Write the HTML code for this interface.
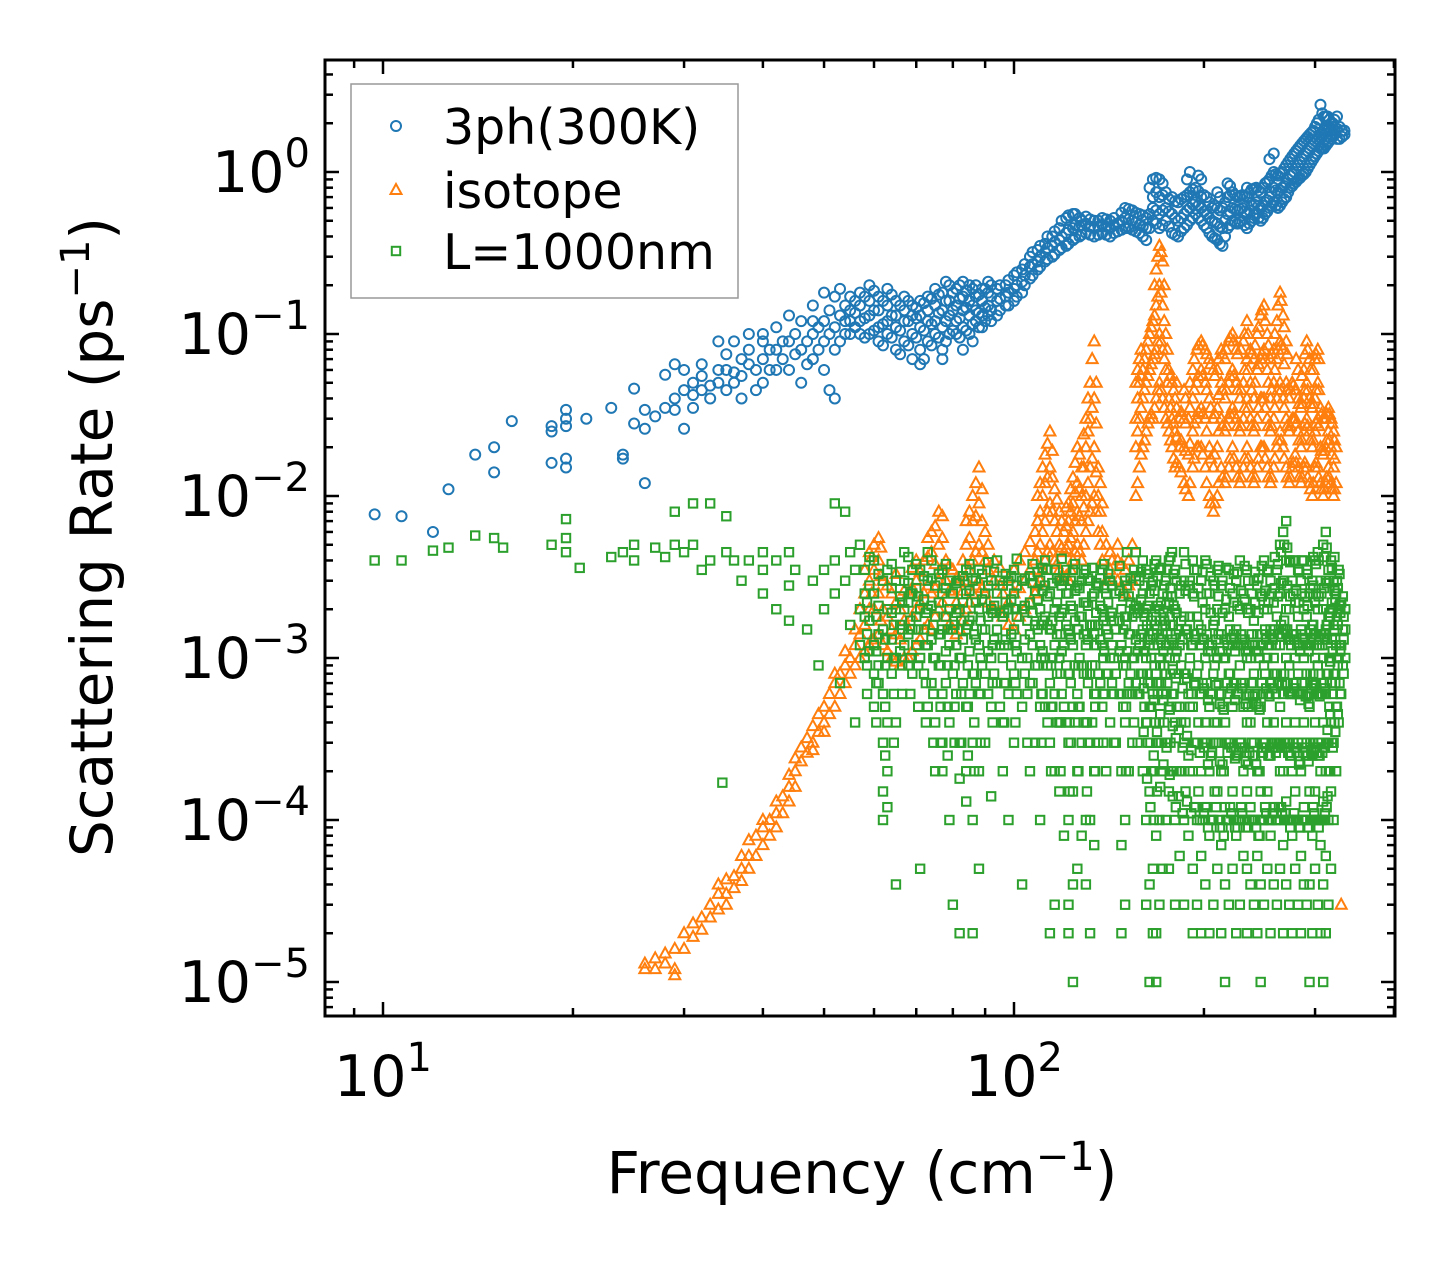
<!DOCTYPE html>
<html><head><meta charset="utf-8"><style>
html,body{margin:0;padding:0;background:#fff;}
svg{display:block;font-family:"DejaVu Sans","Liberation Sans",sans-serif;}
</style></head><body>
<svg id="chart" width="1455" height="1265" viewBox="0 0 1455 1265" xmlns="http://www.w3.org/2000/svg">
<rect width="1455" height="1265" fill="#fff"/>
<g id="marks"></g>
<g id="axes"></g>
</svg>
<script>
const threephRows = [[9.7,.0077],[10.7,.0075],[12,.006],[12.7,.011],[14,.018],[15,.014,.02],[16,.029],[18.5,.016,.025,.027],[19.5,.027,.03,.017,.015,.034],[21,.03],[23,.035],[24,.017,.018],[25,.028,.046],[26,.012,.034,.026],[27,.031],[28,.035,.056],[29,.034,.065,.04],[30,.045,.026,.06],[31,.05,.042,.035],[32,.055,.065,.045],[33,.048,.04],[34,.05,.09,.06],[35,.06,.045,.075],[36,.058,.09,.05],[37,.07,.04,.055],[38,.1,.065,.08],[39,.06,.045],[40,.09,.05,.07,.1],[41,.08,.06],[42,.11,.06,.08],[43,.09,.07],[44,.13,.09,.06],[45,.1,.075],[46,.12,.08,.05],[47,.09,.065],[48,.15,.1,.07,.12],[49,.11,.08],[50,.18,.12,.06,.09],[51,.14,.1,.045],[52,.17,.11,.04,.08],[53,.19,.13,.09],[54,.15,.1,.12],[55,.17,.12,.1,.14],[57,.1,.12,.15,.18],[59,.1,.13,.16,.2],[61,.09,.11,.14,.17],[63,.1,.12,.15,.19],[65,.08,.11,.13,.16],[67,.09,.12,.14,.17],[69,.07,.1,.13,.15],[71,.065,.08,.11,.13,.16],[73,.09,.12,.14,.17],[75,.1,.12,.15,.19],[77,.07,.08,.11,.14,.18],[79,.1,.13,.16,.2],[81,.1,.12,.15,.19],[83,.08,.11,.14,.17,.21],[85,.1,.13,.16,.2],[87,.12,.14,.17,.2],[89,.11,.13,.16,.19],[91,.13,.15,.18,.21],[94,.13,.16,.19],[97,.15,.17,.2],[100,.16,.19,.23],[103,.18,.21,.25],[106,.22,.26,.3],[109,.25,.28,.33],[112,.28,.32,.36],[115,.3,.35,.4],[118,.33,.38,.45],[121,.35,.42,.52],[124,.38,.45,.55],[127,.4,.46,.52],[130,.42,.48,.53],[134,.4,.45,.5],[138,.42,.47,.52],[142,.4,.45,.5],[146,.43,.48],[150,.45,.52,.6],[154,.44,.5,.58],[158,.42,.47,.55],[162,.38,.45,.52],[166,.5,.6,.7,.9],[170,.45,.55,.7,.9],[174,.5,.6,.75],[178,.42,.55,.7],[182,.4,.5,.65],[186,.45,.55,.7],[190,.5,.6,.75,1.0],[194,.55,.65,.8],[198,.5,.6,.7,.9],[202,.45,.55,.7],[206,.4,.5,.6],[210,.38,.48,.6,.75],[214,.35,.45,.6],[218,.45,.55,.7,.85],[222,.5,.6,.75],[226,.48,.58,.7],[230,.5,.6,.72],[234,.45,.55,.7,.8],[238,.5,.62,.78],[242,.55,.65,.8],[246,.5,.6,.75],[250,.55,.65,.85],[254,.6,.7,.9,1.2],[258,.65,.8,1.0,1.3],[262,.6,.75,.95],[266,.65,.8,1.0],[270,.7,.85,1.1],[274,.8,.95,1.2],[278,.85,1.0,1.3],[282,.9,1.1,1.4],[286,.95,1.2,1.5],[290,1.0,1.3,1.6],[294,1.1,1.4,1.7],[298,1.2,1.5,1.8],[302,1.3,1.6,2.0],[306,1.4,1.7,2.6],[310,1.4,1.8,2.2],[314,1.5,1.9,2.2],[318,1.6,1.8,2.0],[322,1.7,1.8,2.1],[328,1.6,1.9],[334,1.7,1.8]];

const threephRowsExtra = [[56,.11,.135,.16],[58,.095,.125,.17],[60,.105,.14,.185],[62,.085,.115,.16],[64,.095,.13,.175],[66,.075,.105,.15],[68,.085,.12,.16],[70,.095,.125,.145],[72,.07,.105,.155],[74,.085,.115,.165],[76,.095,.135,.175],[78,.09,.12,.16,.21],[80,.105,.14,.18],[82,.095,.125,.165,.2],[84,.105,.145,.185],[86,.09,.115,.15,.19],[88,.11,.135,.175],[90,.12,.145,.19],[92,.12,.14,.17,.2],[95,.14,.165,.2],[98,.15,.18,.215],[101,.17,.2,.24],[104,.2,.23,.27],[107,.23,.27,.32],[110,.26,.3,.35],[113,.29,.34,.4],[116,.31,.37,.43],[119,.34,.4,.5],[122,.36,.44,.54],[125,.39,.47,.55],[128,.41,.47,.5],[132,.41,.46,.51],[136,.41,.46,.5],[140,.41,.46,.51],[144,.42,.47,.52],[148,.44,.5,.56],[152,.45,.51,.59],[156,.43,.49,.56],[160,.4,.46,.54],[164,.45,.55,.8],[168,.48,.58,.75,.92],[172,.47,.58,.72,.85],[176,.46,.57,.68],[180,.41,.52,.66],[184,.43,.52,.68],[188,.47,.58,.72,.9],[192,.52,.63,.78],[196,.52,.62,.76,.95],[200,.47,.57,.72],[204,.42,.52,.65],[208,.39,.49,.62],[212,.36,.46,.58,.7],[216,.4,.5,.65],[220,.47,.57,.72,.82],[224,.49,.59,.72],[228,.49,.59,.71],[232,.47,.57,.71],[236,.48,.58,.74],[240,.52,.63,.79],[244,.52,.62,.77],[248,.52,.62,.8],[252,.57,.67,.87],[256,.62,.75,.95],[260,.62,.77,.97],[264,.62,.77,.98],[268,.68,.82,1.05],[272,.75,.9,1.15],[276,.82,.97,1.25],[280,.87,1.05,1.35],[284,.92,1.15,1.45],[288,.97,1.25,1.55],[292,1.05,1.35,1.65],[296,1.15,1.45,1.75],[300,1.25,1.55,1.9],[304,1.35,1.65,2.1],[308,1.4,1.75,2.3],[312,1.45,1.85,2.2],[316,1.55,1.85,2.1],[320,1.65,1.9,2.0],[325,1.6,1.85,2.2],[331,1.65,1.8]];

const isotopeRows = [[26,1.2e-5,1.3e-5],[27,1.4e-5,1.2e-5],[28,1.5e-5,1.3e-5],[29,1.6e-5,1.2e-5,1.1e-5],[30,2e-5,1.6e-5],[31,2.3e-5,1.9e-5],[32,2.5e-5,2.1e-5],[33,3e-5,2.5e-5],[34,3.5e-5,2.8e-5,4e-5],[35,4.3e-5,3.5e-5,3e-5],[36,4.5e-5,3.8e-5],[37,5e-5,4.2e-5,6e-5],[38,6e-5,5e-5,7.5e-5],[39,8e-5,6e-5],[40,9e-5,7e-5,1e-4],[41,1e-4,8e-5],[42,1.1e-4,9e-5,1.3e-4],[43,1.4e-4,1.1e-4],[44,1.6e-4,1.3e-4,1.9e-4],[45,2e-4,1.6e-4,2.4e-4],[46,2.3e-4,2.8e-4],[47,2.6e-4,3.2e-4],[48,3e-4,3.8e-4,2.7e-4],[49,3.5e-4,4.5e-4],[50,4e-4,5e-4,3.5e-4],[51,4.5e-4,6e-4],[52,5e-4,7e-4,8e-4],[53,6e-4,8e-4],[54,7e-4,9e-4,1.1e-3],[55,8e-4,1e-3],[56,9e-4,1.2e-3,1.5e-3],[57,1e-3,1.4e-3,2e-3],[58,1.1e-3,1.6e-3,2.5e-3,3.5e-3],[59,1.2e-3,2e-3,3e-3,4.5e-3],[60,1.3e-3,2e-3,3.5e-3,5e-3],[61,1.4e-3,2.5e-3,4e-3,5.5e-3],[62,1.2e-3,2e-3,3e-3],[64,1e-3,1.5e-3,2.5e-3],[66,.9e-3,1.3e-3,2e-3],[68,1e-3,1.5e-3,2.5e-3],[70,1.2e-3,2e-3,3e-3,4e-3],[72,1.5e-3,2.5e-3,4e-3],[74,1.5e-3,2.5e-3,4.5e-3,6e-3],[76,2e-3,3e-3,5e-3,8e-3],[78,1.8e-3,3e-3,4e-3],[80,1.5e-3,2.5e-3,3.5e-3],[82,1.5e-3,2e-3,3e-3],[84,2e-3,3e-3,5e-3,7e-3],[86,2.5e-3,4e-3,7e-3,1e-2],[88,3e-3,5e-3,9e-3,1.5e-2],[90,2.5e-3,4e-3,6e-3],[93,2e-3,3e-3,4e-3],[96,1.8e-3,2.5e-3],[100,1.5e-3,2.5e-3,3.5e-3],[104,2e-3,3e-3,4.5e-3],[108,2.5e-3,4e-3,6e-3],[110,3e-3,5e-3,8e-3,1.2e-2],[112,4e-3,7e-3,1.2e-2,1.8e-2],[114,5e-3,9e-3,1.5e-2,2.5e-2],[116,4e-3,7e-3,1.1e-2],[118,3.5e-3,5e-3,8e-3],[120,3e-3,4.5e-3,6e-3],[122,3e-3,5e-3,7e-3,9e-3],[124,4e-3,6e-3,9e-3,1.3e-2],[126,5e-3,8e-3,1.2e-2,2e-2],[128,4e-3,7e-3,1e-2,1.5e-2],[130,6e-3,1e-2,2e-2,3e-2],[132,8e-3,1.5e-2,3e-2,5e-2],[134,1e-2,2e-2,4e-2,9e-2],[136,6e-3,1e-2,1.5e-2],[138,4e-3,6e-3,9e-3],[140,3e-3,5e-3],[143,3e-3,4e-3],[146,3e-3,4e-3,5e-3],[150,2.5e-3,3.5e-3],[154,3e-3,5e-3],[156,1e-2,2e-2,3e-2,5e-2],[158,1.5e-2,3e-2,5e-2,7e-2],[160,2e-2,4e-2,6e-2],[162,2.5e-2,5e-2,8e-2],[164,3e-2,6e-2,1e-1],[166,3e-2,7e-2,1.2e-1],[168,4e-2,8e-2,1.5e-1,2.5e-1],[170,5e-2,1e-1,2e-1,3.5e-1],[172,4e-2,8e-2,1.5e-1,2.8e-1],[174,3e-2,6e-2,1e-1],[176,2.5e-2,4e-2,6e-2],[178,2e-2,3e-2,5e-2],[180,1.5e-2,2.5e-2,4e-2],[183,1.5e-2,2e-2,3e-2],[186,1.2e-2,2e-2,3e-2,4.5e-2],[189,1e-2,1.8e-2,3e-2],[192,1.5e-2,2.5e-2,4e-2,6e-2],[195,2e-2,3e-2,5e-2,8e-2],[198,2e-2,3.5e-2,6e-2,9e-2],[201,1.5e-2,3e-2,5e-2,8e-2],[204,1e-2,2e-2,4e-2,7e-2],[207,8e-3,1.5e-2,3e-2,6e-2],[210,1e-2,2e-2,3.5e-2,6e-2],[213,1.5e-2,3e-2,5e-2,8e-2],[216,1.2e-2,2.5e-2,4e-2,7e-2],[219,1.5e-2,3e-2,5e-2,9e-2],[222,2e-2,3.5e-2,6e-2,1e-1],[225,1.5e-2,3e-2,5e-2,8e-2],[228,1.2e-2,2.5e-2,4e-2],[231,1.5e-2,3e-2,5e-2,9e-2],[234,2e-2,4e-2,7e-2,1.2e-1],[237,1.5e-2,3e-2,5e-2,8e-2],[240,1.2e-2,2.5e-2,4e-2,7e-2],[243,1.5e-2,3e-2,6e-2,1e-1],[246,2e-2,4e-2,7e-2,1.3e-1],[249,2e-2,4e-2,8e-2,1.5e-1],[252,1.5e-2,3e-2,6e-2,1e-1],[255,1.2e-2,2.5e-2,4e-2,7e-2],[258,1.5e-2,3e-2,5e-2,8e-2],[261,2e-2,4e-2,7e-2,1.2e-1],[264,2.5e-2,5e-2,9e-2,1.8e-1],[267,2e-2,4e-2,8e-2,1.3e-1],[270,1.5e-2,3e-2,5e-2,9e-2],[273,1.2e-2,2.5e-2,4e-2],[276,1.5e-2,3e-2,5e-2],[279,1.8e-2,3e-2,4.5e-2],[282,1.5e-2,2.5e-2,4e-2,6e-2],[285,1.2e-2,2e-2,3.5e-2],[288,1.5e-2,2.5e-2,4e-2,6e-2],[291,1.5e-2,3e-2,5e-2,9e-2],[294,1.2e-2,2.5e-2,4e-2,7e-2],[297,1e-2,2e-2,3.5e-2],[300,1.5e-2,2.5e-2,4e-2,7e-2],[303,1.5e-2,3e-2,5e-2,8e-2],[306,1.2e-2,2e-2,3.5e-2],[309,1e-2,1.8e-2,3e-2],[312,1.2e-2,2e-2,3e-2],[315,1.5e-2,2.5e-2,3.5e-2],[318,1.2e-2,2e-2,3e-2],[321,1e-2,1.5e-2,2.5e-2],[324,1.2e-2,2e-2],[330,3e-5]];

const isotopeRowsExtra = [[59.5,.0013,.0025,.0042],[61.5,.0017,.0032,.0048],[63,.0011,.0018,.0028],[65,.00095,.0014,.0022,.0033],[67,.001,.0017,.0026],[69,.0011,.0018,.0027,.0036],[71,.0013,.0022,.0034],[73,.0016,.0028,.0042,.0055],[75,.0018,.0027,.0038,.0065],[77,.0022,.0035,.0055,.0075],[79,.0016,.0026,.0037],[81,.0014,.0022,.0031],[83,.0017,.0026,.004],[85,.0022,.0035,.0055,.008],[87,.0028,.0045,.0075,.012],[89,.0027,.0045,.007,.011],[91,.0022,.0035,.005],[95,.0019,.0028,.0036],[98,.0016,.0022,.0031],[102,.0018,.0027,.004],[106,.0022,.0035,.0052],[109,.0028,.0045,.007,.01],[111,.0035,.006,.01,.015],[113,.0045,.008,.013,.021],[115,.0045,.008,.013,.019],[117,.0038,.006,.0095],[119,.0032,.0048,.007],[121,.0032,.0047,.0065,.0085],[123,.0035,.0055,.008,.011],[125,.0045,.007,.0105,.016],[127,.0045,.0075,.011,.018],[129,.005,.0085,.015,.024],[131,.007,.012,.025,.04],[133,.009,.017,.035,.07],[135,.008,.014,.028,.05],[137,.005,.008,.012],[142,.0035,.0045],[148,.0028,.0038],[152,.0028,.004],[157,.012,.025,.04,.06],[159,.018,.035,.055,.08],[161,.022,.045,.07],[163,.028,.055,.09],[165,.032,.065,.11],[167,.035,.075,.13,.2],[169,.045,.09,.17,.3],[171,.045,.09,.18,.32],[173,.035,.07,.12,.2],[175,.028,.05,.08],[177,.022,.035,.055],[179,.017,.028,.045],[181,.016,.023,.035,.05],[184,.014,.022,.033],[187,.011,.019,.028,.04],[190,.012,.021,.035,.05],[193,.017,.028,.045,.07],[196,.02,.033,.055,.085],[199,.018,.032,.055,.085],[202,.012,.025,.045,.075],[205,.009,.017,.035,.065],[208,.009,.018,.032,.055],[211,.012,.025,.042,.07],[214,.013,.027,.045,.075],[217,.013,.027,.045,.08],[220,.017,.032,.055,.095],[223,.017,.032,.055,.09],[226,.013,.027,.045,.075],[229,.013,.027,.045,.08],[232,.017,.035,.06,.1],[235,.017,.035,.06,.1],[238,.013,.027,.045,.075],[241,.013,.027,.05,.085],[244,.017,.035,.065,.11],[247,.02,.04,.075,.14],[250,.017,.035,.07,.12],[253,.013,.027,.05,.085],[256,.013,.027,.045,.075],[259,.017,.035,.06,.1],[262,.022,.045,.08,.15],[265,.022,.045,.085,.16],[268,.017,.035,.065,.11],[271,.013,.027,.045,.075],[274,.013,.027,.045],[277,.016,.03,.048],[280,.016,.028,.045,.07],[283,.013,.022,.037],[286,.013,.022,.037,.055],[289,.016,.028,.045,.075],[292,.013,.027,.045,.08],[295,.011,.022,.037,.06],[298,.012,.022,.037,.06],[301,.016,.028,.045,.075],[304,.013,.027,.045,.07],[307,.011,.019,.032],[310,.011,.019,.03],[313,.013,.022,.032],[316,.013,.022,.032],[319,.011,.018,.028],[322,.011,.017,.022]];

const boundaryRows = [[9.7,.004],[10.7,.004],[12,.0046],[12.7,.0048],[14,.0057],[15,.0055],[15.5,.0048],[18.5,.005],[19.5,.0072,.0055,.0045],[20.5,.0036],[23,.0042],[24,.0045],[25,.005,.004],[27,.0048],[28,.0042],[29,.005,.008],[30,.0045],[31,.009,.005],[32,.0035],[33,.009,.004],[34.5,.00017],[35,.0045,.0075],[36,.004],[37,.003],[38,.004],[40,.0045,.0035,.0025],[42,.004,.002],[44,.0045,.0028,.0017],[45,.0035],[47,.0015],[48,.003],[49,.0009],[50,.0035,.002],[52,.009,.004,.0025],[53,.0007],[54,.008,.003],[55,.0045,.0016],[56,.0004,.0035],[57,.005,.002,.0012],[58,.0025,.001,.0035,.0018],[60,.0012,.0025,.004,.0008,.0005],[62,.0003,.00015,.0001,.0006,.0015,.003],[63,.0002,.00012,.0004,.001,.002,.0035],[65,.0004,.00004,.001,.002,.003],[67,.0012,.002,.003,.0045],[69,.0015,.0025,.0035,.0008],[71,.00005,.001,.002,.0035],[73,.0005,.0012,.002,.003,.0045],[75,.0004,.0002,.001,.0018,.0028],[77,.0002,.0003,.0006,.0015,.0025,.0035],[79,.0001,.0004,.0012,.002,.003],[80,.00003,.0008,.0015,.0025],[82,.00002,.00018,.0003,.001,.002,.003],[84,.00013,.0002,.0005,.0015,.0025,.0035],[86,.0001,.00002,.0003,.0008,.0018,.003],[88,.00005,.0002,.0006,.0012,.002,.0035],[90,.0003,.0008,.0015,.0025],[92,.00014,.0005,.001,.002,.003],[94,.0007,.0015,.0025,.004],[96,.0002,.0004,.001,.0018,.0028],[98,.0001,.0006,.0012,.002,.003],[100,.0003,.0008,.0015,.0025,.0035],[103,.00004,.0005,.001,.002,.003],[106,.0002,.0007,.0014,.0022,.0032],[108,.0003,.0009,.0016,.0026],[110,.0001,.0005,.0012,.002,.003],[112,.0005,.001,.0018,.0028,.004],[114,.00002,.0003,.0007,.0015,.0025],[116,.00003,.0002,.0006,.0012,.002,.0035],[118,.00015,.0004,.001,.0018,.003],[120,.00008,.0005,.0012,.002,.003],[122,.00002,.00003,.0001,.0003,.0008,.0015,.0025],[124,.00001,.00004,.00015,.0005,.0012,.002,.0035],[126,.00005,.0002,.0006,.0015,.0028],[128,.00008,.0003,.0009,.0018,.003],[130,.0001,.00004,.0004,.0012,.0022,.0035],[132,.00002,.0001,.0003,.0008,.0016,.003],[134,.00007,.0002,.0006,.0014,.0025],[136,.0003,.0008,.0016,.0028],[138,.0005,.0012,.002,.0035],[140,.0002,.0008,.0015,.0025],[142,.0004,.001,.0018,.003],[145,.0003,.0008,.0015,.0025],[148,.00002,.00007,.0002,.0006,.0012,.002],[150,.00003,.0001,.0004,.001,.0018,.003],[152,.0002,.0007,.0014,.0024],[155,.0004,.001,.002,.0035],[158,.0006,.0012,.002,.003],[160,.0002,.0008,.0015,.0025,.004],[162,.00003,.0001,.0004,.001,.002,.0035],[164,.00001,.00004,.00015,.0005,.0012,.0025],[166,.00002,.00005,.0002,.0006,.0014,.003],[168,.00001,.00002,.00008,.0003,.0008,.0018,.004],[170,.00003,.0001,.0004,.001,.002,.0035],[172,.00005,.0002,.0006,.0014,.0025],[174,.0001,.0003,.0008,.0016,.003],[176,.00005,.00015,.0005,.0012,.0022,.004],[178,.0002,.0006,.0013,.0024,.0045],[180,.00003,.0001,.0004,.001,.002,.0035],[183,.00006,.0002,.0005,.0012,.0025],[186,.00003,.0001,.0003,.0008,.0018,.003,.0045],[189,.00008,.00025,.0006,.0014,.0028],[192,.00002,.00005,.0002,.0005,.0012,.0025,.004],[195,.00003,.0001,.0003,.0008,.0018,.0035],[198,.00002,.00006,.0002,.0006,.0015,.003],[201,.00004,.00012,.0004,.001,.002,.004],[204,.00002,.00008,.0002,.0005,.0012,.0025],[207,.00003,.0001,.0003,.0008,.0016,.003],[210,.00005,.00015,.0004,.001,.002,.0035],[213,.00002,.00007,.0002,.0006,.0014,.0028],[216,.00001,.00004,.00012,.0004,.001,.002],[219,.00003,.0001,.0003,.0008,.0018,.0035],[222,.00005,.00015,.0005,.0012,.0025],[225,.00002,.00008,.00025,.0007,.0015,.003],[228,.00003,.0001,.0003,.0009,.002,.004],[231,.00006,.0002,.0005,.0012,.0025],[234,.00002,.00005,.00015,.0004,.001,.002,.0035],[237,.00004,.00012,.0004,.001,.002],[240,.00003,.0001,.0003,.0008,.0017,.003],[243,.00002,.00006,.0002,.0006,.0014,.0028],[246,.00001,.00004,.00015,.0005,.0012,.0025],[249,.00003,.0001,.0003,.0009,.002,.004],[252,.00005,.00015,.0004,.001,.002,.0035],[255,.00002,.00008,.00025,.0007,.0015,.003],[258,.00004,.00012,.0004,.001,.0022],[261,.00003,.0001,.0003,.0008,.0018,.0035],[264,.00005,.0002,.0005,.0012,.0025,.005],[267,.00002,.00007,.0002,.0006,.0015,.003,.006],[270,.00004,.00013,.0004,.001,.002,.004,.007],[273,.00003,.0001,.0003,.0009,.002,.004],[276,.00002,.00008,.0002,.0006,.0014,.003],[279,.00005,.00015,.0004,.001,.0022,.004],[282,.00003,.0001,.0003,.0008,.0018,.0035],[285,.00002,.00006,.0002,.0006,.0015,.003],[288,.00004,.00012,.0004,.001,.002,.004],[291,.00003,.0001,.0003,.0008,.0018,.0035],[294,.00001,.00004,.00015,.0005,.0012,.0025],[297,.00002,.00008,.00025,.0007,.0016,.003],[300,.00005,.00015,.0004,.001,.0022,.004],[303,.00003,.0001,.0003,.0009,.002,.0045],[306,.00002,.00007,.0002,.0006,.0014,.003],[309,.00001,.00004,.00013,.0004,.001,.002,.005],[312,.00002,.00006,.0002,.0006,.0015,.003,.006],[315,.00003,.0001,.0003,.0008,.0018,.0035],[318,.00005,.00015,.0004,.001,.002,.004],[321,.0001,.0003,.0008,.0016,.003],[324,.0002,.0005,.0012,.0025],[327,.0004,.001,.002,.0035],[330,.0006,.0012,.0022],[335,.001,.0015,.002]];

const boundaryRowsExtra = [[59,.0011,.0017,.0028,.0042],[61,.0009,.0014,.0021,.0033,.0007],[64,.0008,.0013,.0019,.0027,.0038],[66,.0011,.0016,.0024,.0034],[68,.0009,.0014,.0022,.0029,.0042],[70,.0012,.0018,.0027,.0038],[72,.0008,.0015,.0023,.0032],[74,.0007,.0013,.0021,.0031,.004],[76,.0009,.0014,.0022,.0033],[78,.0007,.0011,.0018,.0027,.0038],[81,.0006,.0012,.0019,.0029],[83,.0007,.0013,.0022,.0032],[85,.0006,.0011,.0017,.0026,.0038],[87,.0007,.0013,.0022,.0031],[89,.0009,.0015,.0023,.0033],[91,.0006,.0011,.0018,.0028,.0039],[93,.0008,.0013,.0021,.0034],[95,.0005,.0012,.0019,.003],[97,.0007,.0013,.0022,.0033],[99,.0009,.0014,.0023,.0032],[101,.0006,.0011,.0018,.0028,.0041],[104,.0008,.0013,.0021,.0031],[107,.0007,.0012,.0019,.0029,.0038],[109,.0009,.0015,.0023,.0034],[111,.0006,.0011,.0017,.0026,.0036],[113,.0004,.0009,.0016,.0024,.0035],[115,.0005,.001,.0017,.0029],[117,.0004,.0008,.0014,.0022,.0031],[119,.0006,.0011,.0019,.0028,.0041],[121,.0004,.0009,.0016,.0025,.0035],[123,.0003,.0007,.0013,.0021,.003],[125,.0004,.0009,.0017,.0026,.0038],[127,.0005,.001,.0018,.0027],[129,.0004,.0008,.0014,.0022,.0033],[131,.0003,.0007,.0013,.0021,.0031],[133,.0004,.0009,.0016,.0024,.0036],[135,.0006,.0012,.0019,.0029],[137,.0007,.0013,.0021,.0031],[139,.0006,.0011,.0018,.0027,.0038],[141,.0008,.0014,.0022,.0033],[143,.0007,.0012,.0019,.0028],[147,.0006,.0011,.0017,.0026,.0037],[149,.0005,.0009,.0015,.0024],[151,.0006,.0011,.0018,.0028,.0045],[153,.0008,.0014,.0022,.0031],[156,.0007,.0013,.0021,.0032,.0045],[159,.0008,.0014,.0023,.0034],[161,.0005,.0011,.0018,.0028],[163,.0003,.0007,.0013,.0021,.0033],[165,.0002,.0005,.001,.0017,.0028],[167,.0002,.0004,.0009,.0016,.0026,.0038],[169,.0003,.0006,.0012,.0021,.0032],[171,.0003,.0007,.0013,.0022,.0036],[173,.0004,.0009,.0017,.0028],[175,.0003,.0007,.0014,.0024,.0035],[177,.0003,.0008,.0016,.0027,.0042],[179,.0002,.0006,.0012,.0021,.0033],[181,.0002,.0005,.0011,.0019,.003],[184,.0002,.0004,.0009,.0017,.0028],[187,.00015,.0004,.0008,.0015,.0026,.0038],[190,.0002,.0005,.001,.0018,.003],[193,.00012,.0003,.0007,.0014,.0024,.0035],[196,.00015,.0004,.0009,.0016,.0027],[199,.0001,.0003,.0007,.0013,.0022,.0034],[202,.00012,.0003,.0007,.0014,.0025,.0038],[205,.0001,.00025,.0006,.0011,.0019,.0032],[208,.00015,.0004,.0009,.0017,.0028],[211,.0001,.0003,.0007,.0014,.0024,.0037],[214,.00009,.00022,.0005,.0011,.0019,.003],[217,.0001,.0003,.0007,.0013,.0023,.0036],[220,.00012,.0003,.0008,.0015,.0027],[223,.0001,.00028,.0007,.0014,.0022,.0033],[226,.00009,.00025,.0006,.0012,.0021,.0034],[229,.00012,.0003,.0007,.0014,.0026],[232,.0001,.00028,.0007,.0013,.0023,.0037],[235,.00009,.00022,.0005,.0011,.0019,.003],[238,.0001,.0003,.0007,.0014,.0025],[241,.0001,.00025,.0006,.0012,.0022,.0034],[244,.00008,.0002,.0005,.0011,.0019,.0031],[247,.0001,.00028,.0007,.0014,.0024,.0037],[250,.00012,.0003,.0008,.0015,.0026],[253,.0001,.00025,.0006,.0012,.0022,.0034],[256,.0001,.0003,.0007,.0014,.0025],[259,.00012,.0003,.0008,.0015,.0027,.0042],[262,.0001,.00028,.0007,.0014,.0024,.0038],[265,.00012,.0003,.0008,.0016,.0029,.0045],[268,.0001,.0003,.0008,.0017,.003,.005],[271,.0001,.0003,.0007,.0015,.0028,.0048],[274,.00009,.00025,.0006,.0013,.0024,.0039],[277,.0001,.0003,.0007,.0014,.0025,.004],[280,.0001,.00028,.0007,.0014,.0026],[283,.00009,.00022,.0006,.0012,.0022,.0034],[286,.0001,.0003,.0007,.0014,.0025,.004],[289,.0001,.00028,.0007,.0013,.0024],[292,.00009,.00025,.0006,.0012,.0021,.0033],[295,.0001,.0003,.0008,.0015,.0027],[298,.00012,.0003,.0008,.0016,.0028,.0042],[301,.0001,.00028,.0007,.0014,.0025,.0038],[304,.00009,.00025,.0006,.0013,.0024,.004],[307,.0001,.0003,.0007,.0014,.0025],[310,.0001,.00028,.0007,.0014,.0027,.0042],[313,.00012,.0003,.0008,.0016,.0029,.0048],[316,.0002,.0005,.001,.0019,.003],[319,.0003,.0007,.0013,.0022,.0036],[322,.0004,.0008,.0015,.0026,.0042],[325,.0005,.001,.0018,.003],[328,.0007,.0012,.0021,.0033],[332,.0009,.0015,.0024]];

const boundaryRowsThird = [[58.5,.0006,.0009,.0014,.0022],[60.5,.0004,.0007,.0011,.0018],[62.5,.00025,.0005,.0009,.0013],[64.5,.0003,.0006,.001,.0016],[66.5,.0006,.0009,.0015,.0022],[68.5,.0006,.001,.0017,.0025],[70.5,.0005,.0009,.0015,.0024],[72.5,.0004,.0007,.0012,.0019],[74.5,.0003,.0006,.001,.0016],[76.5,.0003,.0005,.0009,.0014],[78.5,.00025,.0005,.0009,.0015],[80.5,.0003,.0005,.0009,.0016],[82.5,.0003,.0006,.001,.0017],[84.5,.00025,.0005,.0009,.0016],[86.5,.0002,.0004,.0008,.0014],[88.5,.0003,.0006,.001,.0017],[92.5,.0004,.0007,.0012,.0019],[96.5,.0004,.0007,.0012,.0019],[100.5,.0004,.0007,.0012,.002],[105,.0003,.0006,.001,.0017],[110.5,.0003,.0006,.001,.0016],[114.5,.0002,.0005,.0009,.0015],[118.5,.0002,.0004,.0008,.0014],[122.5,.00015,.0004,.0008,.0014],[126.5,.0002,.0005,.0009,.0015],[130.5,.00015,.0004,.0008,.0014],[134.5,.0002,.0005,.0009,.0016],[138.5,.0003,.0006,.001,.0017],[144,.0003,.0006,.001,.0017],[150.5,.0002,.0005,.0009,.0016],[154,.0003,.0006,.001,.0018],[157,.0003,.0006,.0011,.0019],[160.5,.00035,.00065,.0011,.0019],[162.5,.00018,.0004,.0008,.0016],[164.5,.00012,.0003,.0007,.0013],[166.5,.0001,.00025,.00055,.0012],[168.5,.00015,.00035,.0007,.0015],[170.5,.00016,.00045,.0009,.0017],[172.5,.00022,.00055,.0011,.0019],[174.5,.00028,.0006,.0012],[176.5,.00019,.00048,.001,.0018],[178.5,.00014,.00038,.00085,.0016],[180.5,.00012,.00032,.00075,.0014],[182.5,.00014,.00036,.0008,.0015],[185,.00011,.00028,.00065,.0013],[188,.00013,.00033,.00075,.0015],[191,.00011,.00027,.0006,.0012],[194,.00012,.0003,.00068,.0013],[197,.0001,.00026,.0006,.0012],[200,.00011,.00028,.00065,.0013],[203,.00009,.00022,.00055,.0011],[206,.0001,.00026,.0006,.0012],[209,.00012,.0003,.00068,.0013],[212,.00009,.00023,.00052,.0011],[215,.00008,.0002,.00048,.001],[218,.0001,.00026,.0006,.0012],[221,.00011,.00028,.00065,.0013],[224,.00009,.00024,.00055,.0011],[227,.0001,.00026,.0006,.0012],[230,.00011,.00028,.00065,.0013],[233,.00009,.00023,.00052,.0011],[236,.0001,.00026,.0006,.0012],[239,.0001,.00025,.00058,.0012],[242,.00009,.00022,.00052,.0011],[245,.00008,.0002,.00048,.001],[248,.0001,.00026,.0006,.0012],[251,.00011,.00028,.00065,.0013],[254,.0001,.00025,.00058,.0012],[257,.00011,.00028,.00065,.0013],[260,.0001,.00026,.0006,.0012],[263,.00012,.0003,.0007,.0014],[266,.00011,.00028,.00068,.0014],[269,.00011,.00028,.0007,.0015],[272,.0001,.00026,.00062,.0013],[275,.0001,.00025,.0006,.0012],[278,.00011,.00028,.00065,.0013],[281,.0001,.00026,.0006,.0012],[284,.00009,.00023,.00055,.0011],[287,.0001,.00026,.0006,.0012],[290,.0001,.00025,.00058,.0012],[293,.00009,.00023,.00052,.0011],[296,.0001,.00027,.00065,.0013],[299,.00011,.00028,.00068,.0014],[302,.0001,.00026,.0006,.0012],[305,.0001,.00025,.00058,.0012],[308,.0001,.00026,.0006,.0012],[311,.00011,.00028,.00065,.0013],[314,.00014,.00036,.0008,.0016],[317,.0002,.00045,.00095,.0018],[320,.00028,.0006,.0011,.002],[323,.00035,.0007,.0013,.0023],[326,.00045,.0009,.0016,.0027],[329,.0006,.0011,.0019],[333,.0008,.0013,.0018]];

const xTickExps = [1, 2];
const yTickExps = [0, -1, -2, -3, -4, -5];
const legendLabels = ["3ph(300K)", "isotope", "L=1000nm"];

const NS = "http://www.w3.org/2000/svg";
const L = 325, R = 1395, T = 60, B = 1016;
const X10 = 383, XDEC = 631;
const Y1 = 172, YDEC = 162;
function xScale(f){ return X10 + (Math.log10(f) - 1) * XDEC; }
function yScale(v){ return Y1 - Math.log10(v) * YDEC; }
function mk(tag, attrs, parent){ const e = document.createElementNS(NS, tag); for (const k in attrs) e.setAttribute(k, attrs[k]); parent.appendChild(e); return e; }

const marks = document.getElementById('marks');
const axes = document.getElementById('axes');
const clip = mk('clipPath', {id:'pc'}, marks);
mk('rect', {x:L, y:T, width:R-L, height:B-T}, clip);

const COLORS = ['#1f77b4', '#ff7f0e', '#2ca02c'];
function drawMarker(kind, cx, cy, parent){
  let e;
  if (kind === 0) e = mk('circle', {cx:cx, cy:cy, r:5, fill:'none', stroke:COLORS[0], 'stroke-width':2}, parent);
  else if (kind === 1) e = mk('polygon', {points:`${cx},${cy-6} ${cx+5.5},${cy+4} ${cx-5.5},${cy+4}`, fill:'none', stroke:COLORS[1], 'stroke-width':2}, parent);
  else e = mk('rect', {x:cx-4.2, y:cy-4.2, width:8.4, height:8.4, fill:'none', stroke:COLORS[2], 'stroke-width':2}, parent);
  return e;
}
const seriesList = [threephRows.concat(threephRowsExtra), isotopeRows.concat(isotopeRowsExtra), boundaryRows.concat(boundaryRowsExtra, boundaryRowsThird)];
const seriesNames = ['series-3ph', 'series-isotope', 'series-boundary'];
seriesList.forEach((rows, si) => {
  const g = mk('g', {'clip-path':'url(#pc)'}, marks);
  
  
  rows.forEach(row => {
    const f = row[0];
    for (let i = 1; i < row.length; i++) {
      const m = drawMarker(si, xScale(f), yScale(row[i]), g);
      
      
    }
  });
});

const frame = mk('rect', {x:L, y:T, width:R-L, height:B-T, fill:'none', stroke:'#000', 'stroke-width':3}, axes);



for (let d = 0; d <= 2; d++) {
  for (let m = 1; m <= 9; m++) {
    const f = m * Math.pow(10, d);
    const x = xScale(f);
    if (x < L || x > R) continue;
    const len = m === 1 ? 14 : 8;
    mk('line', {x1:x, y1:B, x2:x, y2:B-len, stroke:'#000', 'stroke-width':2.5}, axes);
    mk('line', {x1:x, y1:T, x2:x, y2:T+len, stroke:'#000', 'stroke-width':2.5}, axes);
  }
}
for (let e = 1; e >= -6; e--) {
  for (let m = 1; m <= 9; m++) {
    const v = m * Math.pow(10, e);
    const y = yScale(v);
    if (y < T || y > B) continue;
    const len = m === 1 ? 14 : 8;
    mk('line', {x1:L, y1:y, x2:L+len, y2:y, stroke:'#000', 'stroke-width':2.5}, axes);
    mk('line', {x1:R, y1:y, x2:R-len, y2:y, stroke:'#000', 'stroke-width':2.5}, axes);
  }
}
xTickExps.forEach(e => {
  const t = mk('text', {x:xScale(Math.pow(10,e)), y:1096, 'text-anchor':'middle', 'font-size':57, fill:'#000'}, axes);
  
  
  t.innerHTML = `10<tspan dy="-25" font-size="40">${e}</tspan>`;
});
yTickExps.forEach(e => {
  const t = mk('text', {x:310, y:yScale(Math.pow(10,e))+20, 'text-anchor':'end', 'font-size':57, fill:'#000'}, axes);
  
  
  t.innerHTML = `10<tspan dy="-25" font-size="40">${e < 0 ? '\u2212' + (-e) : e}</tspan>`;
});
const xl = mk('text', {x:862, y:1193, 'text-anchor':'middle', 'font-size':58, fill:'#000'}, axes);


xl.innerHTML = 'Frequency (cm<tspan dy="-23" font-size="40">\u22121</tspan><tspan dy="23">)</tspan>';
const yl = mk('text', {x:0, y:0, 'text-anchor':'middle', 'font-size':58, fill:'#000', transform:'translate(112,537) rotate(-90)'}, axes);


yl.innerHTML = 'Scattering Rate (ps<tspan dy="-23" font-size="40">\u22121</tspan><tspan dy="23">)</tspan>';

const lg = mk('g', {}, axes);


mk('rect', {x:351, y:84, width:387, height:214, fill:'#fff', 'fill-opacity':0.8, stroke:'#999', 'stroke-width':1.5}, lg);
const rowsY = [126, 190, 251];
legendLabels.forEach((lab, i) => {
  const ent = mk('g', {}, lg);
  
  
  drawMarker(i, 396, rowsY[i], ent);
  const t = mk('text', {x:443, y:rowsY[i]+18, 'font-size':49, fill:'#000'}, ent);
  t.textContent = lab;
});
</script>
</body></html>
